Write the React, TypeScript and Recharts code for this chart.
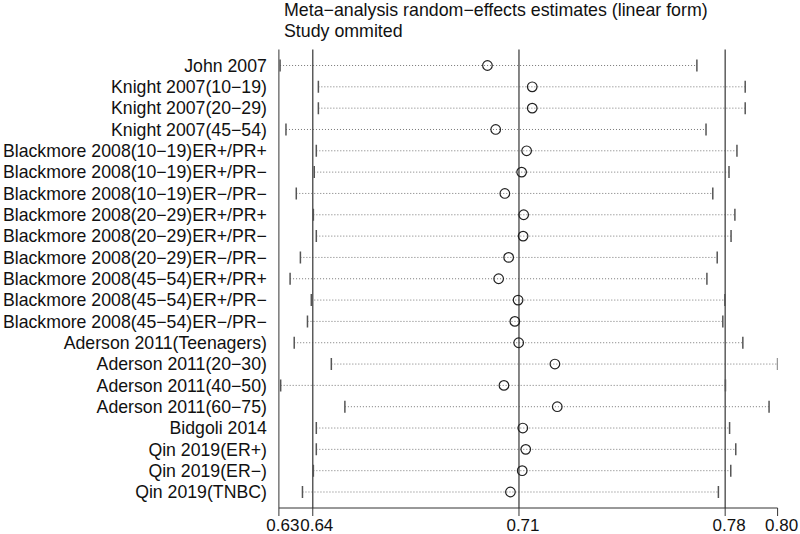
import React from "react"
import { ScatterChart, Scatter, XAxis, YAxis, ReferenceLine } from "recharts"

const studies = [
  "John 2007",
  "Knight 2007(10−19)",
  "Knight 2007(20−29)",
  "Knight 2007(45−54)",
  "Blackmore 2008(10−19)ER+/PR+",
  "Blackmore 2008(10−19)ER+/PR−",
  "Blackmore 2008(10−19)ER−/PR−",
  "Blackmore 2008(20−29)ER+/PR+",
  "Blackmore 2008(20−29)ER+/PR−",
  "Blackmore 2008(20−29)ER−/PR−",
  "Blackmore 2008(45−54)ER+/PR+",
  "Blackmore 2008(45−54)ER+/PR−",
  "Blackmore 2008(45−54)ER−/PR−",
  "Aderson 2011(Teenagers)",
  "Aderson 2011(20−30)",
  "Aderson 2011(40−50)",
  "Aderson 2011(60−75)",
  "Bidgoli 2014",
  "Qin 2019(ER+)",
  "Qin 2019(ER−)",
  "Qin 2019(TNBC)",
]

const estimates = [
  0.6993, 0.7145, 0.7145, 0.7021, 0.7126, 0.7109, 0.7052, 0.7116, 0.7114, 0.7065, 0.7031,
  0.7097, 0.7086, 0.7099, 0.7222, 0.7049, 0.723, 0.7113, 0.7123, 0.7111, 0.7071,
]
const lower = [
  0.6289, 0.6419, 0.6419, 0.6309, 0.6412, 0.6405, 0.6344, 0.6402, 0.6412, 0.6358, 0.6323,
  0.6395, 0.6382, 0.6337, 0.6463, 0.6291, 0.6509, 0.6412, 0.6412, 0.6402, 0.6365,
]
const upper = [
  0.7704, 0.7868, 0.7868, 0.7735, 0.784, 0.7813, 0.7758, 0.7833, 0.782, 0.7773, 0.7738,
  0.7799, 0.7792, 0.786, 0.7978, 0.7801, 0.7949, 0.7815, 0.7836, 0.7819, 0.7777,
]

// overall estimate and its CI (vertical lines)
const refLines = [0.64, 0.71, 0.78]
const xTicks = [0.6285, 0.64, 0.71, 0.78, 0.7978]
const xDomain = [0.6285, 0.7978]

const rows = studies.map((s, i) => i + 1)
const estData = estimates.map((v, i) => ({ x: v, y: i + 1 }))
const loData = lower.map((v, i) => ({ x: v, y: i + 1 }))
const hiData = upper.map((v, i) => ({ x: v, y: i + 1 }))

const font = "'Liberation Sans', Arial, sans-serif"

const Cap = (props: any) => (
  <line x1={props.cx} x2={props.cx} y1={props.cy - 6} y2={props.cy + 6} stroke="#555" strokeWidth={1.5} />
)

const Ring = (props: any) => (
  <circle cx={props.cx} cy={props.cy} r={4.8} fill="none" stroke="#222" strokeWidth={1.2} />
)

export default function App() {
  return (
    <div style={{ position: "absolute", left: 0, top: 0, width: 800, height: 534, background: "#fff", fontFamily: font, overflow: "hidden" }}>
      <div style={{ position: "absolute", left: 284, top: 0, fontSize: 17.8, lineHeight: "21px", color: "#111", whiteSpace: "nowrap" }}>
        <div>Meta−analysis random−effects estimates (linear form)</div>
        <div>Study ommited</div>
      </div>
      <ScatterChart width={800} height={534} margin={{ top: 49.5, right: 22.4, bottom: 0, left: 0 }}>
        <XAxis
          type="number"
          dataKey="x"
          domain={xDomain}
          ticks={xTicks}
          interval={0}
          allowDataOverflow
          tickFormatter={(v: number) => v.toFixed(2)}
          height={26}
          tickSize={8}
          tickMargin={3}
          stroke="#333"
          tick={{ fill: "#111", fontSize: 17, fontFamily: font, dx: 4 }}
        />
        <YAxis
          type="number"
          dataKey="y"
          domain={[0.25, 21.75]}
          reversed
          ticks={rows}
          interval={0}
          width={278.9}
          tickLine={false}
          tickSize={0}
          tickMargin={12}
          stroke="#333"
          tickFormatter={(v: number) => studies[v - 1]}
          tick={{ fill: "#111", fontSize: 17.7, fontFamily: font }}
        />
        {studies.map((s, i) => (
          <ReferenceLine
            key={s}
            segment={[
              { x: lower[i], y: i + 1 },
              { x: upper[i], y: i + 1 },
            ]}
            stroke="#777"
            strokeWidth={1}
            strokeDasharray="1 2"
          />
        ))}
        {refLines.map((v) => (
          <ReferenceLine key={v} x={v} stroke="#444" strokeWidth={1.3} />
        ))}
        <Scatter data={loData} shape={Cap} isAnimationActive={false} />
        <Scatter data={hiData} shape={Cap} isAnimationActive={false} />
        <Scatter data={estData} shape={Ring} isAnimationActive={false} />
      </ScatterChart>
    </div>
  )
}
